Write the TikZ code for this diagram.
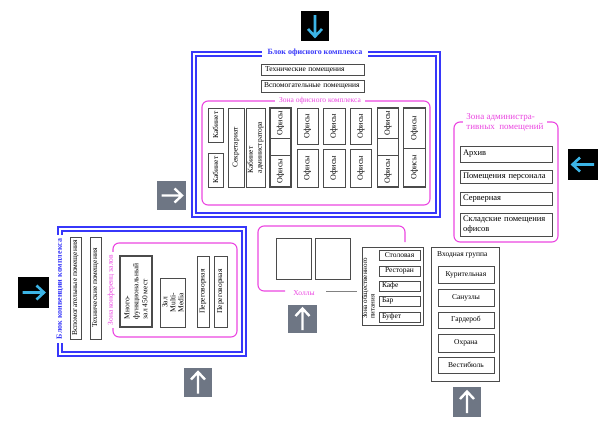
\documentclass[tikz,border=0pt]{standalone}
\usepackage{fontspec}
\setmainfont{Liberation Serif}
\definecolor{bl}{RGB}{55,55,250}
\definecolor{mg}{RGB}{235,70,225}
\definecolor{cy}{RGB}{60,180,230}
\definecolor{gs}{RGB}{110,118,132}
\definecolor{ln}{RGB}{75,75,75}
\begin{document}
\begin{tikzpicture}[x=1pt,y=-1pt,
  every node/.style={font=\fontsize{7.5}{8.5}\selectfont, inner sep=0pt},
  room/.style={draw=ln, line width=0.7pt, fill=white, align=center},
  ofroom/.style={room, rotate=90, font=\fontsize{8}{9}\selectfont},
  adroom/.style={room, text width=86pt, inner xsep=3pt, align=left, font=\fontsize{8.5}{10}\selectfont},
  thickroom/.style={draw=ln, line width=1.5pt},
  bluetitle/.style={text=bl, font=\fontsize{8}{9}\selectfont\bfseries, fill=white, inner xsep=6pt, inner ysep=2pt},
  zonetitle/.style={text=mg, fill=white, inner xsep=4pt, inner ysep=1pt},
  zone/.style={draw=mg, line width=1.1pt, rounded corners=6pt},
  bframe/.style={draw=bl, line width=1.3pt},
  darksq/.style={fill=black, minimum width=30pt, minimum height=30pt},
  graysq/.style={fill=gs, minimum width=29pt, minimum height=29pt},
  carrow/.style={draw=cy, line width=2.6pt},
  warrow/.style={draw=white, line width=2.4pt}
]
\useasboundingbox (0,0) rectangle (611,432);

% ---------- Office block ----------
\node[bframe, minimum width=248pt, minimum height=165pt] (obo) at (316,134.5) {};
\node[bframe, minimum width=240pt, minimum height=157pt] (obi) at (316,134.5) {};
\node[bluetitle] (obt) at (315,53) {Блок офисного комплекса};
\node[room, minimum height=11pt, text width=95pt, inner xsep=4pt, align=left] (otech) at (312.5,69.5) {Технические помещения};
\node[room, minimum height=12pt, text width=97pt, inner xsep=3pt, align=left] (oaux) at (312.5,86) {Вспомогательные помещения};

\node[zone, minimum width=228pt, minimum height=104pt] (oz) at (316,153) {};
\node[zonetitle] (ozt) at (320,101) {Зона офисного комплекса};

\node[room, rotate=90, minimum width=34pt, minimum height=15pt] (k1) at (215.5,125) {Кабинет};
\node[room, rotate=90, minimum width=34pt, minimum height=15pt] (k2) at (215.5,170) {Кабинет};
\node[room, rotate=90, minimum width=79pt, minimum height=16pt] (sek) at (236,147.5) {Секретариат};
\node[room, rotate=90, minimum width=79pt, minimum height=19pt, align=left, font=\fontsize{7.5}{9}\selectfont] (kadm) at (255.5,147.5) {Кабинет\\администратора};

% column 1 (thick)
\node[ofroom, minimum width=30pt, minimum height=21pt] (o1a) at (280.5,123) {Офисы};
\node[ofroom, minimum width=32pt, minimum height=21pt] (o1b) at (280.5,171) {Офисы};
\node[thickroom, minimum width=21pt, minimum height=79pt] (c1) at (280.5,147.5) {};
% columns 2-4
\node[ofroom, minimum width=36pt, minimum height=21pt] (o2a) at (307.5,126) {Офисы};
\node[ofroom, minimum width=38pt, minimum height=21pt] (o2b) at (307.5,168) {Офисы};
\node[ofroom, minimum width=36pt, minimum height=22pt] (o3a) at (334,126) {Офисы};
\node[ofroom, minimum width=38pt, minimum height=22pt] (o3b) at (334,168) {Офисы};
\node[ofroom, minimum width=36pt, minimum height=21pt] (o4a) at (361,126) {Офисы};
\node[ofroom, minimum width=38pt, minimum height=21pt] (o4b) at (361,168) {Офисы};
% column 5 (thick)
\node[ofroom, minimum width=30pt, minimum height=21pt] (o5a) at (388,123) {Офисы};
\node[ofroom, minimum width=32pt, minimum height=21pt] (o5b) at (388,171) {Офисы};
\node[thickroom, minimum width=21pt, minimum height=79pt] (c5) at (388,147.5) {};
% column 6 (thick)
\node[ofroom, minimum width=40pt, minimum height=22pt] (o6a) at (414.5,128) {Офисы};
\node[ofroom, minimum width=39pt, minimum height=22pt] (o6b) at (414.5,167.5) {Офисы};
\node[thickroom, minimum width=22pt, minimum height=79pt] (c6) at (414.5,147.5) {};

% ---------- Admin zone ----------
\node[zone, minimum width=104pt, minimum height=120pt] (az) at (506,182) {};
\node[zonetitle, align=left, font=\fontsize{9}{10}\selectfont, inner xsep=3pt] (azt) at (505,122) {Зона администра-\\тивных\ \ помещений};
\node[adroom, minimum height=16pt] (arch) at (506,154) {Архив};
\node[adroom, minimum height=13pt] (pers) at (506,176.5) {Помещения персонала};
\node[adroom, minimum height=13pt] (serv) at (506,199) {Серверная};
\node[adroom, minimum height=23pt] (skl) at (506,224.5) {Складские помещения\\офисов};

% ---------- Conference block ----------
\node[bframe, minimum width=188pt, minimum height=129pt] (cbo) at (152,291.5) {};
\node[bframe, minimum width=180pt, minimum height=121pt] (cbi) at (152,291.5) {};
\node[bluetitle, rotate=90, inner xsep=4pt, inner ysep=1pt] (cbt) at (60,289) {Блок конвенции комплекса};
\node[room, rotate=90, minimum width=102pt, minimum height=11pt] (cvsp) at (75.5,288) {Вспомогательные помещения};
\node[room, rotate=90, minimum width=102pt, minimum height=11pt] (ctech) at (95.5,288) {Технические помещения};

\node[zone, minimum width=124pt, minimum height=94pt] (cz) at (175,290) {};
\node[zonetitle, rotate=90, inner xsep=3pt] (czt) at (111,290) {Зона конференц залов};
\node[room, line width=1.5pt, rotate=90, minimum width=71pt, minimum height=32pt, align=left, font=\fontsize{7.5}{9}\selectfont] (mf) at (136,291.5) {Много-\\функциональный\\зал 450 мест};
\node[room, rotate=90, minimum width=49pt, minimum height=25pt, font=\fontsize{7.5}{8}\selectfont] (mm) at (173,302.5) {Зал\\Multi-\\Media};
\node[room, rotate=90, minimum width=71pt, minimum height=12pt] (p1) at (203,291.5) {Переговорная};
\node[room, rotate=90, minimum width=71pt, minimum height=13pt] (p2) at (220.5,291.5) {Переговорная};

% ---------- Halls ----------
\draw[draw=mg, line width=1.1pt, rounded corners=6pt] (405,242) -- (405,226) -- (258,226) -- (258,291) -- (285,291);
\node[text=mg] (hl) at (304,293.5) {Холлы};
\draw[draw=ln!70, line width=1pt] (326,291) -- (357,291);
\node[room, minimum width=35pt, minimum height=41pt] (sq1) at (293.5,258.5) {};
\node[room, minimum width=35pt, minimum height=41pt] (sq2) at (332.5,258.5) {};

% ---------- Food zone ----------
\node[draw=ln, line width=0.8pt, minimum width=61pt, minimum height=78pt] (fz) at (392.5,286) {};
\node[rotate=90, anchor=west, align=left, font=\fontsize{7}{7.5}\selectfont] (fzt) at (368.5,319) {Зона общественного\\питания};
\node[room, minimum height=10pt, text width=37pt, inner xsep=2pt, align=center] (stol) at (399.5,255.5) {Столовая};
\node[room, minimum height=10pt, text width=37pt, inner xsep=2pt, align=center] (rest) at (399.5,271) {Ресторан};
\node[room, minimum height=10pt, text width=35pt, inner xsep=3pt, align=left] (kafe) at (399.5,286) {Кафе};
\node[room, minimum height=10pt, text width=35pt, inner xsep=3pt, align=left] (bar) at (399.5,301) {Бар};
\node[room, minimum height=10pt, text width=35pt, inner xsep=3pt, align=left] (buf) at (399.5,317) {Буфет};

% ---------- Entry group ----------
\node[draw=ln, line width=0.8pt, minimum width=68pt, minimum height=134pt] (eg) at (465,314) {};
\node[anchor=west] (egt) at (437,255) {Входная группа};
\node[room, minimum width=56pt, minimum height=17pt] (kur) at (466,274.5) {Курительная};
\node[room, minimum width=56pt, minimum height=17pt] (san) at (466,297.5) {Санузлы};
\node[room, minimum width=56pt, minimum height=16pt] (gard) at (466,320) {Гардероб};
\node[room, minimum width=56pt, minimum height=18pt] (ohr) at (466,343) {Охрана};
\node[room, minimum width=56pt, minimum height=16pt] (vest) at (466,365) {Вестибюль};

% ---------- Arrows ----------
\node[darksq, minimum width=28pt] (atop) at (315,26) {};
\draw[carrow, shift={(atop.center)}] (0,-11) -- (0,10) (-7,3) -- (0,10.5) -- (7,3);
\node[darksq, minimum height=31pt] (aright) at (583,164.5) {};
\draw[carrow, shift={(aright.center)}] (11,0) -- (-10,0) (-3,-7) -- (-10.5,0) -- (-3,7);
\node[darksq, minimum width=31pt, minimum height=31pt] (aleft) at (33.5,292.5) {};
\draw[carrow, shift={(aleft.center)}] (-11,0) -- (10,0) (3,-7) -- (10.5,0) -- (3,7);
\node[graysq] (g1) at (171.5,195.5) {};
\draw[warrow, shift={(g1.center)}] (-10,0) -- (10,0) (3,-7) -- (10.5,0) -- (3,7);
\node[graysq, minimum width=28pt] (g2) at (198,382.5) {};
\draw[warrow, shift={(g2.center)}] (0,11) -- (0,-10) (-7,-3) -- (0,-10.5) -- (7,-3);
\node[graysq, minimum height=28pt] (g3) at (302.5,319) {};
\draw[warrow, shift={(g3.center)}] (0,11) -- (0,-10) (-7,-3) -- (0,-10.5) -- (7,-3);
\node[graysq, minimum width=28pt, minimum height=30pt] (g4) at (467,402) {};
\draw[warrow, shift={(g4.center)}] (0,11) -- (0,-10) (-7,-3) -- (0,-10.5) -- (7,-3);
\end{tikzpicture}
\end{document}
